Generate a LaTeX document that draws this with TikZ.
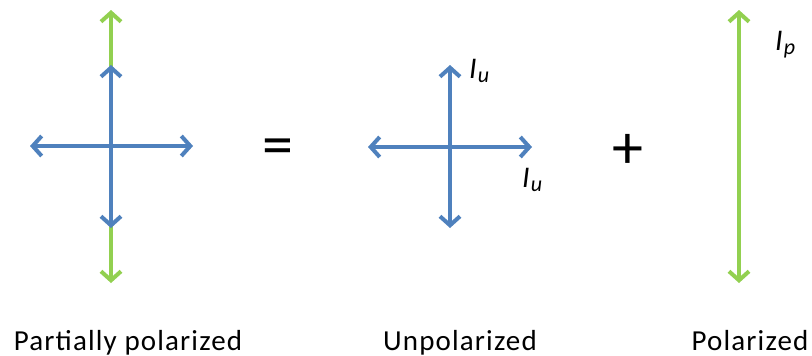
\documentclass[tikz,border=0pt]{standalone}
\usepackage{fontspec}
\setmainfont{Carlito}
\usetikzlibrary{arrows.meta}
\definecolor{vblue}{HTML}{4F81BD}
\definecolor{vgreen}{HTML}{92D050}
\tikzset{
  vec/.style={line width=4pt, {Straight Barb[length=9pt,width=20pt,line width=4pt]}-{Straight Barb[length=9pt,width=20pt,line width=4pt]}},
  bluevec/.style={vec, draw=vblue},
  greenvec/.style={vec, draw=vgreen},
  caption/.style={font=\fontsize{29}{31}\selectfont\addfontfeature{LetterSpace=4}, anchor=base, inner sep=0pt},
  sym/.style={font=\fontsize{30}{32}\selectfont\itshape, inner sep=0pt, anchor=base west},
  op/.style={font=\fontsize{62}{64}\selectfont, inner sep=0pt}
}
\newcommand{\Isub}[1]{I\kern1pt\raisebox{-0.3ex}{\fontsize{22}{24}\selectfont #1}}
\begin{document}
\begin{tikzpicture}[x=1pt,y=-1pt]
\useasboundingbox (0,0) rectangle (812,356);
% left cross
\coordinate (lgt) at (111,10);
\coordinate (lgb) at (111,283);
\coordinate (lbt) at (111,65);
\coordinate (lbb) at (111,228);
\coordinate (lbl) at (30,146);
\coordinate (lbr) at (193,146);
\draw[greenvec] (lgt) -- (lgb);
\draw[bluevec] (lbt) -- (lbb);
\draw[bluevec] (lbl) -- (lbr);
% middle cross
\coordinate (mt) at (450,65);
\coordinate (mb) at (450,228);
\coordinate (ml) at (368,147);
\coordinate (mr) at (532,147);
\draw[bluevec] (mt) -- (mb);
\draw[bluevec] (ml) -- (mr);
\node[sym] (iu1) at (469,78) {\Isub{u}};
\node[sym] (iu2) at (522,187) {\Isub{u}};
% right
\coordinate (rt) at (739,10);
\coordinate (rb) at (739,283);
\draw[greenvec] (rt) -- (rb);
\node[sym] (ip) at (775,50) {\Isub{p}};
% operators
\node[op] (eq) at (278,152) {=};
\node[op] (plus) at (628,151) {+};
% captions
\node[caption] (c1) at (128,350) {Partially polarized};
\node[caption] (c2) at (460,350) {Unpolarized};
\node[caption] (c3) at (750,350) {Polarized};
\end{tikzpicture}
\end{document}
